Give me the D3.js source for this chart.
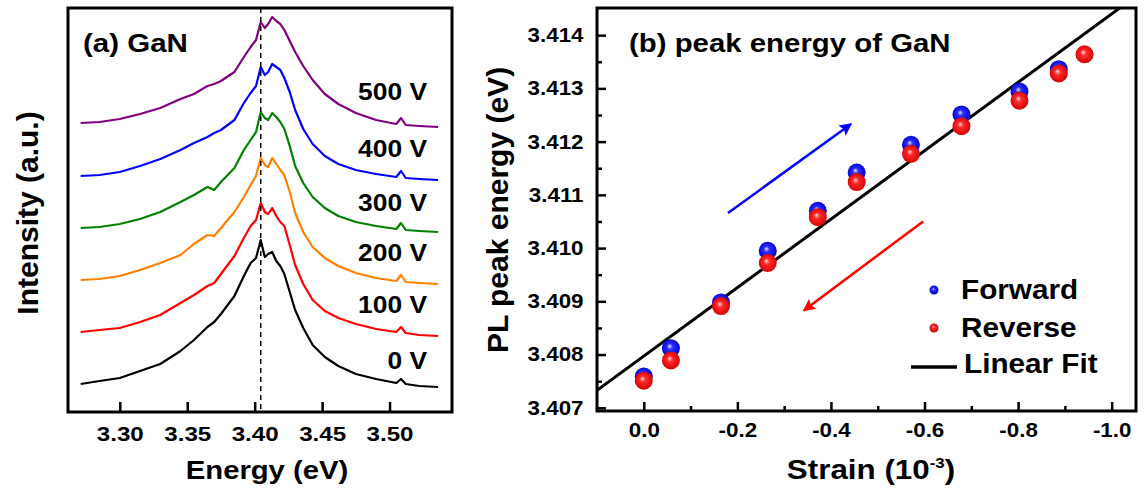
<!DOCTYPE html>
<html>
<head>
<meta charset="utf-8">
<style>
  body { margin: 0; background: #fff; }
  svg { display: block; font-family: 'Liberation Sans', Arial, sans-serif; }
  .tick line { stroke: #000; stroke-width: 2.5; }
</style>
</head>
<body>
<svg width="1147" height="492"></svg>
<script src="https://d3js.org/d3.v7.min.js"></script>
<script>
// ---------- panel (a) data : PL spectra, stacked, arbitrary units ----------
var energy = [3.271, 3.285, 3.300, 3.315, 3.330, 3.345, 3.355, 3.365, 3.370, 3.375,
  3.385, 3.392, 3.397, 3.401, 3.4045, 3.4075, 3.410, 3.413, 3.416, 3.419,
  3.422, 3.426, 3.430, 3.436, 3.443, 3.452, 3.462, 3.475, 3.490, 3.505,
  3.5085, 3.512, 3.522, 3.536];
var int0V = [0.28, 0.31, 0.34, 0.41, 0.48, 0.61, 0.72, 0.85, 0.90, 0.98,
  1.16, 1.36, 1.49, 1.54, 1.72, 1.55, 1.58, 1.60, 1.51, 1.46,
  1.38, 1.20, 1.02, 0.84, 0.67, 0.55, 0.46, 0.38, 0.33, 0.29,
  0.33, 0.28, 0.26, 0.25];
var int100V = [0.80, 0.82, 0.84, 0.90, 0.97, 1.09, 1.17, 1.26, 1.29, 1.38,
  1.56, 1.74, 1.86, 1.92, 2.09, 2.00, 1.98, 2.04, 1.96, 1.90,
  1.86, 1.67, 1.47, 1.28, 1.12, 1.01, 0.94, 0.88, 0.83, 0.80,
  0.85, 0.79, 0.77, 0.76];
var int200V = [1.32, 1.33, 1.36, 1.42, 1.49, 1.57, 1.68, 1.77, 1.76, 1.84,
  2.00, 2.15, 2.27, 2.36, 2.54, 2.47, 2.45, 2.54, 2.48, 2.42,
  2.37, 2.20, 1.99, 1.80, 1.65, 1.54, 1.46, 1.39, 1.34, 1.31,
  1.37, 1.30, 1.29, 1.28];
var int300V = [1.84, 1.85, 1.88, 1.93, 2.00, 2.10, 2.17, 2.25, 2.22, 2.30,
  2.44, 2.62, 2.72, 2.80, 3.00, 2.94, 2.92, 2.99, 2.95, 2.90,
  2.83, 2.66, 2.46, 2.29, 2.15, 2.04, 1.96, 1.90, 1.86, 1.83,
  1.89, 1.82, 1.81, 1.80];
var int400V = [2.36, 2.37, 2.40, 2.46, 2.53, 2.62, 2.69, 2.75, 2.79, 2.82,
  2.92, 3.09, 3.19, 3.26, 3.45, 3.37, 3.40, 3.48, 3.45, 3.42,
  3.34, 3.20, 3.02, 2.83, 2.68, 2.56, 2.48, 2.42, 2.38, 2.35,
  2.41, 2.34, 2.33, 2.32];
var int500V = [2.89, 2.90, 2.93, 2.98, 3.04, 3.13, 3.18, 3.26, 3.28, 3.31,
  3.40, 3.55, 3.65, 3.72, 3.90, 3.84, 3.88, 3.95, 3.91, 3.88,
  3.82, 3.71, 3.60, 3.46, 3.32, 3.18, 3.08, 2.99, 2.92, 2.88,
  2.94, 2.87, 2.86, 2.85];
var voltLabels = ["0 V", "100 V", "200 V", "300 V", "400 V", "500 V"];
var voltColors = ["#000000", "#ff0000", "#ff8000", "#008000", "#0000ff", "#800080"];
var energyTicks = [3.30, 3.35, 3.40, 3.45, 3.50];
var refEnergy = 3.4045;

// ---------- panel (b) data : peak energy vs strain ----------
var strainFwd = [0.0, -0.058, -0.165, -0.265, -0.372, -0.455, -0.571, -0.679, -0.803, -0.887];
var peakFwd = [3.40759, 3.40812, 3.40898, 3.40995, 3.41070, 3.41142, 3.41194, 3.41251, 3.41294, 3.41336];
var strainRev = [0.0, -0.058, -0.165, -0.265, -0.372, -0.455, -0.571, -0.679, -0.803, -0.887, -0.942];
var peakRev = [3.40751, 3.40789, 3.40891, 3.40972, 3.41058, 3.41124, 3.41177, 3.41229, 3.41277, 3.41328, 3.41364];
var fitStrain = [0.1, -1.05];
var fitEnergy = [3.40733, 3.41472];
var strainTicks = [0.0, -0.2, -0.4, -0.6, -0.8, -1.0];
var strainMinor = [-0.1, -0.3, -0.5, -0.7, -0.9];
var peakTicks = [3.407, 3.408, 3.409, 3.410, 3.411, 3.412, 3.413, 3.414];
var peakMinor = [3.4075, 3.4085, 3.4095, 3.4105, 3.4115, 3.4125, 3.4135];

var svg = d3.select("svg");
var font = "'Liberation Sans', Arial, sans-serif";

// text helper: horizontal stretch like the original figure
function label(g, x, y, str, size, sx, anchor, rot) {
  return g.append("text")
    .attr("transform", "translate(" + x + "," + y + ") scale(" + sx + ",1)" + (rot ? " rotate(" + rot + ")" : ""))
    .attr("text-anchor", anchor || "start")
    .attr("font-size", size)
    .attr("font-weight", "bold")
    .attr("fill", "#000")
    .text(str);
}

// ================= panel (a) =================
var ax = {left: 68, right: 452, top: 8, bottom: 412};
var xA = d3.scaleLinear().domain([3.2616, 3.5463]).range([ax.left, ax.right]);
var yA = d3.scaleLinear().domain([0, 4.04]).range([ax.bottom, ax.top]);

var gA = svg.append("g");

var spectra = [int0V, int100V, int200V, int300V, int400V, int500V];
var lineA = d3.line()
  .x(function(d, i) { return xA(energy[i]); })
  .y(function(d) { return yA(d); });

gA.selectAll(".spec")
  .data(spectra)
  .enter().append("path")
  .attr("class", "spec")
  .attr("fill", "none")
  .attr("stroke", function(d, i) { return voltColors[i]; })
  .attr("stroke-width", 2.2)
  .attr("stroke-linejoin", "round")
  .attr("d", lineA);

// dashed reference line
gA.append("line")
  .attr("x1", xA(refEnergy)).attr("x2", xA(refEnergy))
  .attr("y1", ax.top).attr("y2", ax.bottom)
  .attr("stroke", "#000").attr("stroke-width", 1.5)
  .attr("stroke-dasharray", "5,4");

var axisA = gA.append("g")
  .attr("transform", "translate(0," + ax.bottom + ")")
  .call(d3.axisBottom(xA).tickValues(energyTicks).tickSize(-10).tickPadding(14)
    .tickFormat(d3.format(".2f")));
axisA.select(".domain").remove();
axisA.selectAll("text")
  .attr("font-size", 21).attr("font-weight", "bold").attr("font-family", font)
  .attr("fill", "#000").attr("transform", "scale(1.15,1)");

gA.append("rect")
  .attr("x", ax.left).attr("y", ax.top)
  .attr("width", ax.right - ax.left).attr("height", ax.bottom - ax.top)
  .attr("fill", "none").attr("stroke", "#000").attr("stroke-width", 3);

// voltage labels, stacked like the curves
var voltY = [369, 313, 261, 211, 157, 100];
voltLabels.forEach(function(t, i) {
  label(gA, 427, voltY[i], t, 24, 1.1, "end");
});

label(gA, 83, 52, "(a) GaN", 25, 1.18);
label(gA, 267, 479, "Energy (eV)", 25, 1.17, "middle");
label(gA, 38, 213, "Intensity (a.u.)", 30, 1.0, "middle", -90);

// ================= panel (b) =================
var bx = {left: 597, right: 1136, top: 8, bottom: 411};
var xB = d3.scaleLinear().domain([0.1, -1.052]).range([bx.left, bx.right]);
var yB = d3.scaleLinear().domain([3.40694, 3.41451]).range([bx.bottom, bx.top]);

var gB = svg.append("g");
var defs = svg.append("defs");

defs.append("clipPath").attr("id", "clipB")
  .append("rect").attr("x", bx.left).attr("y", bx.top)
  .attr("width", bx.right - bx.left).attr("height", bx.bottom - bx.top);

function ball(id, c0, c1, c2) {
  var gr = defs.append("radialGradient").attr("id", id)
    .attr("cx", "0.5").attr("cy", "0.5").attr("r", "0.55")
    .attr("fx", "0.42").attr("fy", "0.38");
  gr.append("stop").attr("offset", "0%").attr("stop-color", c0);
  gr.append("stop").attr("offset", "30%").attr("stop-color", c1);
  gr.append("stop").attr("offset", "100%").attr("stop-color", c2);
}
ball("ballBlue", "#e0e0ff", "#2a2aff", "#0000c8");
ball("ballRed", "#ffd8d8", "#ff2a2a", "#d00000");

var arrowDef = function(id, color) {
  defs.append("marker").attr("id", id)
    .attr("viewBox", "0 0 10 10").attr("refX", 9).attr("refY", 5)
    .attr("markerWidth", 6).attr("markerHeight", 5).attr("orient", "auto")
    .attr("markerUnits", "strokeWidth")
    .append("path").attr("d", "M0,0 L10,5 L0,10 L2,5 Z").attr("fill", color);
};
arrowDef("arrBlue", "#0000ff");
arrowDef("arrRed", "#ff0000");

// fit line
var fitPts = fitStrain.map(function(s, i) { return [s, fitEnergy[i]]; });
gB.append("path")
  .attr("clip-path", "url(#clipB)")
  .attr("d", d3.line().x(function(d) { return xB(d[0]); }).y(function(d) { return yB(d[1]); })(fitPts))
  .attr("stroke", "#000").attr("stroke-width", 3).attr("fill", "none");

// points: forward underneath, reverse on top
gB.selectAll(".fwd").data(strainFwd).enter().append("circle")
  .attr("class", "fwd")
  .attr("cx", function(d) { return xB(d); })
  .attr("cy", function(d, i) { return yB(peakFwd[i]); })
  .attr("r", 9).attr("fill", "url(#ballBlue)");
gB.selectAll(".rev").data(strainRev).enter().append("circle")
  .attr("class", "rev")
  .attr("cx", function(d) { return xB(d); })
  .attr("cy", function(d, i) { return yB(peakRev[i]); })
  .attr("r", 9).attr("fill", "url(#ballRed)");

// direction arrows (in data coordinates)
var arrowFwd = [[-0.180, 3.41066], [-0.443, 3.41233]];
var arrowRev = [[-0.597, 3.41050], [-0.342, 3.40883]];
[[arrowFwd, "#0000ff", "arrBlue"], [arrowRev, "#ff0000", "arrRed"]].forEach(function(a) {
  gB.append("line")
    .attr("x1", xB(a[0][0][0])).attr("y1", yB(a[0][0][1]))
    .attr("x2", xB(a[0][1][0])).attr("y2", yB(a[0][1][1]))
    .attr("stroke", a[1]).attr("stroke-width", 2.5)
    .attr("marker-end", "url(#" + a[2] + ")");
});

// axes
var axXB = gB.append("g").attr("transform", "translate(0," + bx.bottom + ")")
  .call(d3.axisBottom(xB).tickValues(strainTicks).tickSize(-9).tickPadding(12)
    .tickFormat(d3.format(".1f")));
gB.append("g").attr("transform", "translate(0," + bx.bottom + ")")
  .call(d3.axisBottom(xB).tickValues(strainMinor).tickSize(-5).tickFormat(""))
  .select(".domain").remove();
var axYB = gB.append("g").attr("transform", "translate(" + bx.left + ",0)")
  .call(d3.axisLeft(yB).tickValues(peakTicks).tickSize(-9).tickPadding(12)
    .tickFormat(d3.format(".3f")));
gB.append("g").attr("transform", "translate(" + bx.left + ",0)")
  .call(d3.axisLeft(yB).tickValues(peakMinor).tickSize(-5).tickFormat(""))
  .select(".domain").remove();
[axXB, axYB].forEach(function(a) {
  a.select(".domain").remove();
  a.selectAll("text")
    .attr("font-size", 20).attr("font-weight", "bold").attr("font-family", font)
    .attr("fill", "#000").attr("transform", "scale(1.12,1)");
});
axXB.selectAll("text").text(function(d) { return d === 0 ? "0.0" : d3.format(".1f")(d).replace("\u2212", "-"); });

gB.append("rect")
  .attr("x", bx.left).attr("y", bx.top)
  .attr("width", bx.right - bx.left).attr("height", bx.bottom - bx.top)
  .attr("fill", "none").attr("stroke", "#000").attr("stroke-width", 3);

label(gB, 629, 52, "(b) peak energy of GaN", 26, 1.13);
label(gB, 508, 210, "PL peak energy (eV)", 30, 1.0, "middle", -90);

var xl = label(gB, 871, 479, "Strain (10", 28, 1.12, "middle");
xl.append("tspan").attr("dy", -11).attr("font-size", 15).text("-3");
xl.append("tspan").attr("dy", 11).text(")");

// legend
var legY = [290, 328];
var legNames = ["Forward", "Reverse"];
var legFill = ["url(#ballBlue)", "url(#ballRed)"];
legNames.forEach(function(n, i) {
  gB.append("circle").attr("cx", 934).attr("cy", legY[i]).attr("r", 4.5).attr("fill", legFill[i]);
  label(gB, 961, legY[i] + 9, n, 27, 1.1);
});
gB.append("line").attr("x1", 911).attr("x2", 957).attr("y1", 367).attr("y2", 367)
  .attr("stroke", "#000").attr("stroke-width", 3.5);
label(gB, 964, 373, "Linear Fit", 27, 1.1);
</script>
</body>
</html>
